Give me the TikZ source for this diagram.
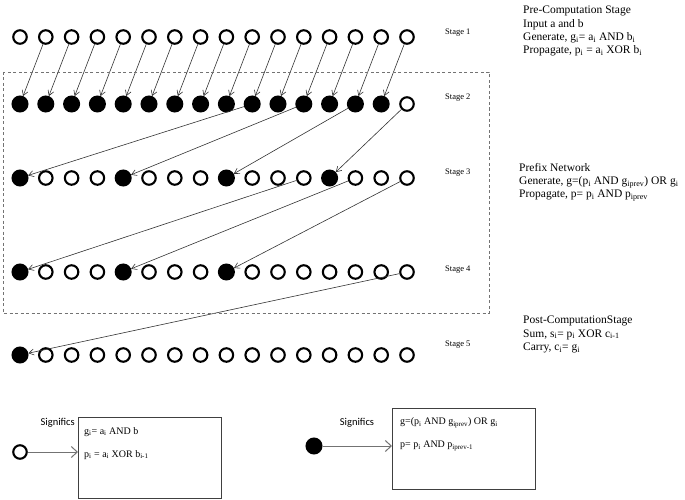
\documentclass[tikz,border=0pt]{standalone}
\usepackage{fontspec}
\setmainfont{Liberation Serif}
\newfontfamily\legendfont{Carlito}
\usetikzlibrary{arrows.meta}
\newcommand{\sbs}[1]{\textsubscript{#1}}

\begin{document}
\begin{tikzpicture}[
        x=1pt, y=-1pt,
        wbit/.style={circle, draw=black, line width=2.1pt, fill=white, minimum size=13.5pt, inner sep=0pt},
        bbit/.style={circle, draw=black, line width=1.5pt, fill=black, minimum size=15.5pt, inner sep=0pt},
        arr/.style={-{Straight Barb[length=5pt, width=6pt]}, line width=0.6pt, black!80},
        legarr/.style={-{Straight Barb[length=6pt, width=11pt]}, line width=1pt, black!55},
        stg/.style={font=\fontsize{8.5}{10}\selectfont, anchor=west, inner sep=0pt},
        info/.style={font=\fontsize{11.5}{13.2}\selectfont, align=left, anchor=north west, inner sep=0pt},
        legbox/.style={rectangle, draw=black!75, line width=0.9pt, anchor=north west,
            minimum width=143pt, minimum height=81pt, inner sep=0pt},
        legtxt/.style={font=\fontsize{10}{11}\selectfont, anchor=west, inner sep=0pt},
        sig/.style={font=\legendfont\fontsize{10.5}{12}\selectfont, inner sep=0pt}
    ]
    \useasboundingbox (0,0) rectangle (685,500);

    % bit rows
    \foreach \i in {0,...,15}
        \node[wbit] (a\i) at (20+25.8*\i, 37) {};
    \foreach \i in {0,...,14}
        \node[bbit] (b\i) at (20+25.8*\i, 104) {};
    \node[wbit] (b15) at (20+25.8*15, 104) {};
    \foreach \i in {0,4,8,12}
        \node[bbit] (c\i) at (20+25.8*\i, 178) {};
    \foreach \i in {1,2,3,5,6,7,9,10,11,13,14,15}
        \node[wbit] (c\i) at (20+25.8*\i, 178) {};
    \foreach \i in {0,4,8}
        \node[bbit] (d\i) at (20+25.8*\i, 272) {};
    \foreach \i in {1,2,3,5,6,7,9,10,11,12,13,14,15}
        \node[wbit] (d\i) at (20+25.8*\i, 272) {};
    \node[bbit] (e0) at (20, 355) {};
    \foreach \i in {1,...,15}
        \node[wbit] (e\i) at (20+25.8*\i, 355) {};

    % connections
    \foreach \src [count=\dst from 0] in {1,...,15}
        \draw[arr] (a\src) -- (b\dst);
    \foreach \src/\dst in {9/0, 11/4, 13/8, 15/12}
        \draw[arr] (b\src) -- (c\dst);
    \foreach \src/\dst in {11/0, 13/4, 15/8}
        \draw[arr] (c\src) -- (d\dst);
    \draw[arr] (d15) -- (e0);

    % prefix network frame
    \draw[black!55, line width=0.6pt, dash pattern=on 3pt off 2.5pt] (3,72) rectangle (489,313);

    % stage labels
    \node[stg] (s1) at (445,33)  {Stage 1};
    \node[stg] (s2) at (445,98)  {Stage 2};
    \node[stg] (s3) at (445,173) {Stage 3};
    \node[stg] (s4) at (445,270) {Stage 4};
    \node[stg] (s5) at (445,345) {Stage 5};

    % stage descriptions
    \node[info] (pre) at (523,6) {Pre-Computation Stage\\
        Input a and b\\
        Generate, g\sbs{i}= a\sbs{i} AND b\sbs{i}\\
        Propagate, p\sbs{i} = a\sbs{i} XOR b\sbs{i}};
    \node[info] (pfx) at (519,163) {Prefix Network\\
        Generate, g=(p\sbs{i} AND g\sbs{iprev}) OR g\sbs{i}\\
        Propagate, p= p\sbs{i} AND p\sbs{iprev}};
    \node[info] (post) at (523,316) {Post-ComputationStage\\
        Sum, s\sbs{i}= p\sbs{i} XOR c\sbs{i-1}\\
        Carry, c\sbs{i}= g\sbs{i}};

    % legend
    \node[wbit] (lw) at (20,452) {};
    \node[legbox] (boxW) at (78,417) {};
    \draw[legarr] (lw) -- (lw -| boxW.west);
    \node[sig, anchor=north east] at ([xshift=-3pt, yshift=-1pt]boxW.north west) {Significs};
    \node[legtxt] at (84,432) {g\sbs{i}= a\sbs{i} AND b};
    \node[legtxt] at (84,455) {p\sbs{i} = a\sbs{i} XOR b\sbs{i-1}};

    \node[bbit] (lb) at (314,446) {};
    \node[legbox] (boxB) at (392,408) {};
    \draw[legarr] (lb) -- (lb -| boxB.west);
    \node[sig] at (357,423) {Significs};
    \node[legtxt] at (400,423) {g=(p\sbs{i} AND g\sbs{iprev}) OR g\sbs{i}};
    \node[legtxt] at (400,446) {p= p\sbs{i} AND p\sbs{iprev-1}};
\end{tikzpicture}
\end{document}
